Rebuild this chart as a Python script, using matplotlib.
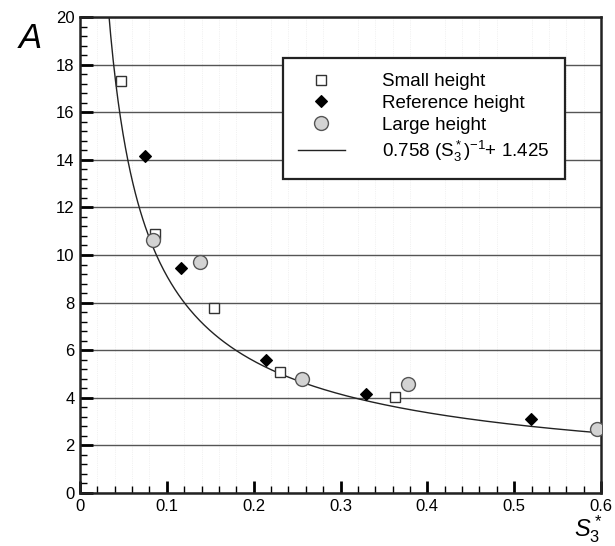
import numpy as np
import matplotlib.pyplot as plt
from matplotlib.ticker import MultipleLocator

plt.rcParams['font.family'] = ['Liberation Sans', 'DejaVu Sans']
plt.rcParams['mathtext.fontset'] = 'custom'
plt.rcParams['mathtext.rm'] = 'Liberation Sans'
plt.rcParams['mathtext.it'] = 'Liberation Sans:italic'

# data
small_s = [0.047, 0.086, 0.154, 0.230, 0.363]
small_a = [17.32, 10.90, 7.77, 5.09, 4.04]

ref_s = [0.0746, 0.1166, 0.214, 0.329, 0.519]
ref_a = [14.17, 9.45, 5.58, 4.18, 3.13]

large_s = [0.084, 0.138, 0.256, 0.378, 0.595]
large_a = [10.65, 9.70, 4.78, 4.57, 2.71]

# fitted curve as drawn in the figure
fit_label = r"0.758 (S$_3^*$)$^{-1}$+ 1.425"
fit_k = 1.75
fit_p = 0.717

fig = plt.figure(figsize=(6.15, 5.46), dpi=100)
ax = fig.add_axes([80/615, 1 - 493/546, 521/615, 476/546])

s_curve = np.linspace(0.0325, 0.6, 400)
a_curve = fit_k * s_curve ** (-fit_p)

ax.plot(small_s, small_a, 's', ms=7, mfc='white', mec='#333333', mew=1.0,
        label='Small height', zorder=4)
ax.plot(ref_s, ref_a, 'D', ms=6.5, mfc='black', mec='black', mew=0.8,
        label='Reference height', zorder=4)
ax.plot(large_s, large_a, 'o', ms=10, mfc='#d3d3d3', mec='#555555', mew=1.0,
        label='Large height', zorder=4)
ax.plot(s_curve, a_curve, '-', color='#222222', lw=1.0, label=fit_label,
        zorder=3)

ax.set_xlim(0, 0.6)
ax.set_ylim(0, 20)

ax.xaxis.set_major_locator(MultipleLocator(0.1))
ax.xaxis.set_minor_locator(MultipleLocator(0.02))
ax.yaxis.set_major_locator(MultipleLocator(2))
ax.yaxis.set_minor_locator(MultipleLocator(0.4))
ax.set_xticks([0, 0.1, 0.2, 0.3, 0.4, 0.5, 0.6])
ax.set_xticklabels(['0', '0.1', '0.2', '0.3', '0.4', '0.5', '0.6'])

ax.tick_params(which='major', direction='in', length=9, width=2,
               labelsize=12, pad=4)
ax.tick_params(which='minor', direction='in', length=5, width=1)
ax.tick_params(top=False, right=False, which='both')

ax.grid(True, which='major', axis='y', color='#555555', lw=1.0)
ax.grid(True, which='minor', axis='x', color='#e6e6e6', lw=0.5,
        linestyle=':')
ax.set_axisbelow(True)

for sp in ax.spines.values():
    sp.set_linewidth(1.8)
    sp.set_color('#222222')

leg = ax.legend(loc='upper left', bbox_to_anchor=(203/521, 1 - 41/476),
                fontsize=13.5, frameon=True, fancybox=False,
                edgecolor='#222222', framealpha=1, handlelength=2.5,
                handletextpad=2.0, labelspacing=0.25, borderpad=0.8,
                borderaxespad=0, markerscale=1.0)
leg.get_frame().set_linewidth(1.6)

fig.text(30/615, 1 - 38/546, 'A', fontsize=25, fontstyle='italic',
         ha='center', va='center')
fig.text(588/615, 1 - 545/546, r'$S_3^*$', fontsize=17,
         ha='center', va='bottom')

fig.savefig('out.png', dpi=100)
